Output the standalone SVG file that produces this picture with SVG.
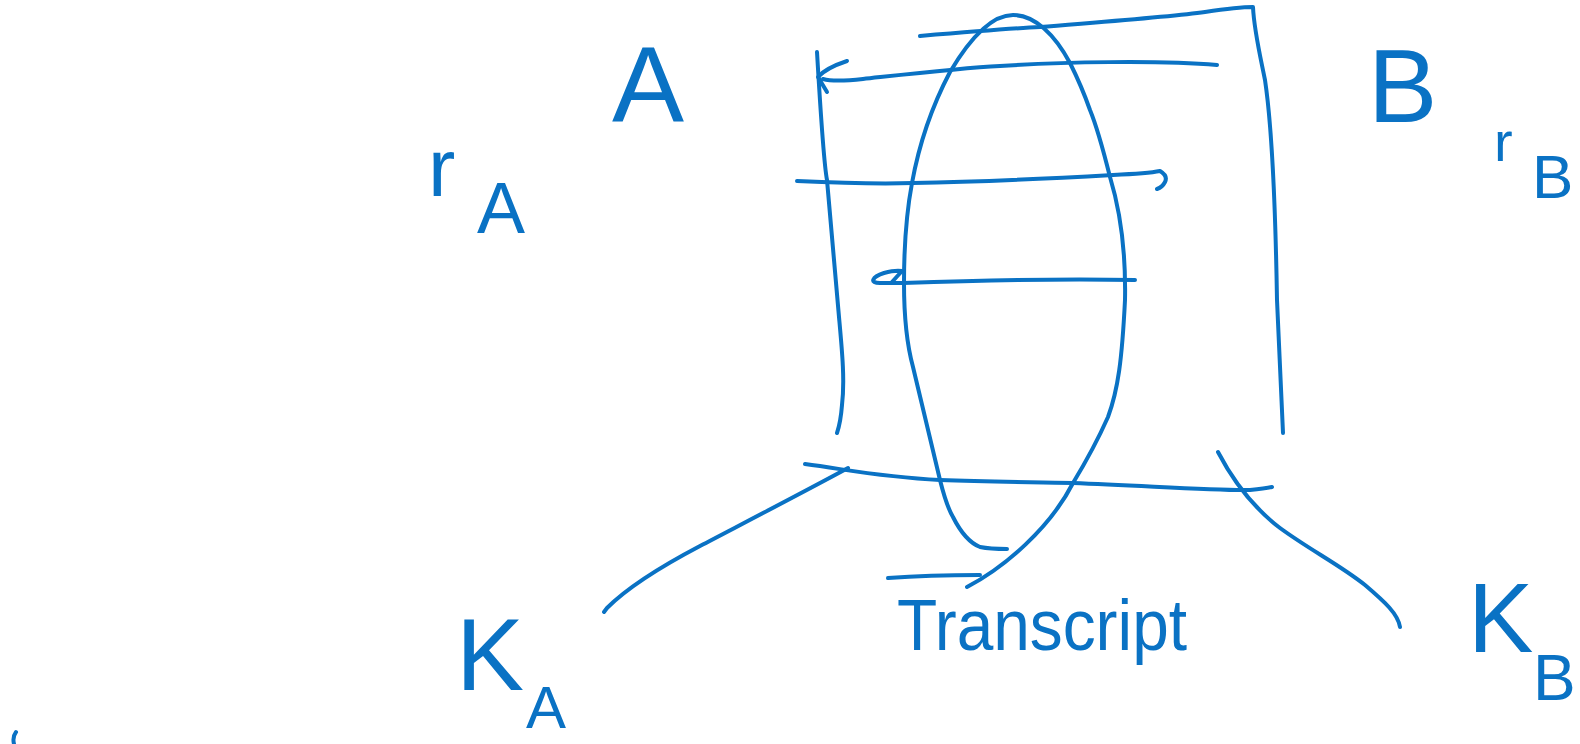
<svg xmlns="http://www.w3.org/2000/svg" width="1580" height="744" viewBox="0 0 1580 744">
<style>
.s{fill:none;stroke:#0a72c4;stroke-width:4;stroke-linecap:round;stroke-linejoin:round}
.t{fill:#0a72c4;font-family:"Liberation Sans",Arial,sans-serif}
</style>
<rect width="1580" height="744" fill="#fff"/>
<g id="connectors">
<path class="s" d="M817,52 C821,120 825,170 827,180 C832,240 836,280 839,317 C842,350 845,380 842,405 C841,418 839,427 837,433"/>
<path class="s" d="M920,36 C980,31 1020,28 1040,27 C1100,22 1170,17 1205,12 C1225,9 1240,7 1253,7 C1254,30 1260,55 1265,80 C1274,140 1276,240 1277,300 L1283,433"/>
<path class="s" d="M1217,65 C1160,60 1060,62 1000,66 C960,68 900,75 863,79 C845,81 830,81 823,79"/>
<path class="s" d="M847,61 C835,65 824,70 818,77 L827,92"/>
<path class="s" d="M797,181 C840,183 880,184 913,183 C980,182 1060,178 1113,175 C1135,174 1150,173 1160,171 C1165,174 1167,178 1165,182 C1163,186 1160,188 1157,189"/>
<path class="s" d="M1135,280 C1050,278 960,281 903,283 L880,283 C869,283 872,277 884,273 C891,271 897,270 902,271 L892,282"/>
<path class="s" d="M967,587 C1005,567 1050,528 1073,483 C1090,455 1100,435 1108,417 C1118,390 1122,360 1125,300 C1126,250 1120,210 1110,177 C1102,145 1097,127 1090,110 C1083,90 1076,75 1070,63 C1055,35 1035,15 1013,15 C995,15 975,30 950,72 C930,110 918,150 912,183 C906,215 904,245 904,283 C904,320 907,345 913,367 C922,405 932,445 940,480 C945,500 950,512 953,517 C962,535 970,543 980,547 C990,549 1000,549 1007,549"/>
<path class="s" d="M805,464 C850,470 880,477 940,480 C990,482 1030,482 1073,483 C1150,486 1220,491 1250,490 C1262,489 1268,488 1272,487"/>
<path class="s" d="M848,468 C800,494 740,525 700,546 C660,567 625,590 607,608 L604,612"/>
<path class="s" d="M1218,452 C1230,475 1250,505 1280,528 C1310,550 1340,565 1365,585 C1385,602 1398,614 1400,627"/>
<path class="s" d="M888,578 C915,576 950,575 980,575"/>
<path class="s" d="M16,732 C13,736 13,740 14,744"/>
</g>
<g id="node-A"><text class="t" x="612" y="122" font-size="108">A</text></g>
<g id="node-rA"><text class="t" x="428" y="196" font-size="82">r<tspan x="477" y="233" font-size="72">A</tspan></text></g>
<g id="node-B"><text class="t" x="1368" y="122" font-size="104">B</text></g>
<g id="node-rB"><text class="t" x="1494" y="161" font-size="56">r<tspan x="1532" y="198" font-size="62">B</tspan></text></g>
<g id="node-KA"><text class="t" x="456" y="690" font-size="102">K<tspan x="526" y="728" font-size="60">A</tspan></text></g>
<g id="node-KB"><text class="t" x="1468" y="652" font-size="98">K<tspan x="1533" y="700" font-size="64">B</tspan></text></g>
<g id="node-transcript"><text class="t" x="897" y="650" font-size="72" textLength="290" lengthAdjust="spacingAndGlyphs">Transcript</text></g>
</svg>
